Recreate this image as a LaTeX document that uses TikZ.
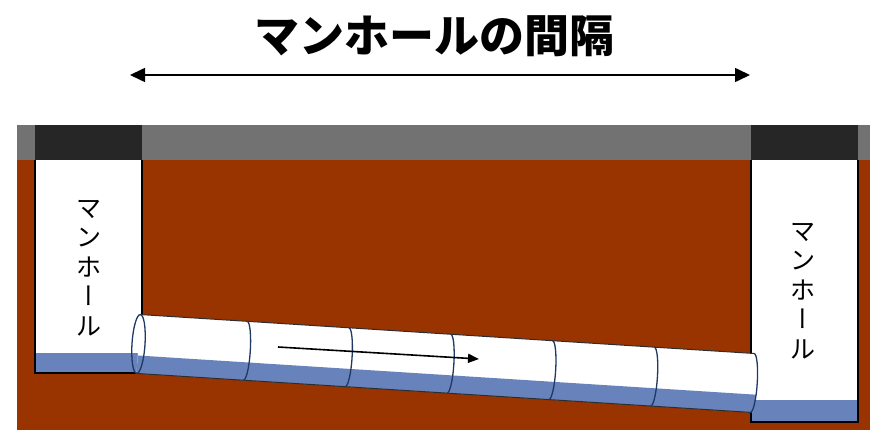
\documentclass[tikz,border=0pt]{standalone}
\usepackage{fontspec}
\newfontfamily\jp{Noto Sans CJK JP}
\usetikzlibrary{arrows.meta}

\definecolor{earth}{RGB}{153,51,0}
\definecolor{road}{RGB}{114,114,114}
\definecolor{cover}{RGB}{38,38,38}
\definecolor{water}{RGB}{104,131,187}
\definecolor{jointblue}{RGB}{31,56,100}
\definecolor{pipeedge}{RGB}{45,45,45}

\tikzset{
  shaftwall/.style={draw=black, line width=1.2pt},
  pipeedgeline/.style={draw=pipeedge, line width=1pt},
  jointline/.style={draw=jointblue, line width=1.3pt},
  shaftlabel/.style={align=center, inner sep=0pt,
    font=\jp\fontsize{25}{29.5}\selectfont},
  spanarrow/.style={line width=1.6pt,
    arrows={Triangle[length=15pt,width=14pt]-Triangle[length=15pt,width=14pt]}},
  flowarrow/.style={line width=1.6pt, -{Triangle[length=11pt,width=9pt]}}
}

% long vowel mark in its vertical-writing form
\newcommand{\longbar}{{\addfontfeature{RawFeature=+vert}ー}}

\begin{document}
\begin{tikzpicture}[x=1pt,y=-1pt]
\useasboundingbox (0,0) rectangle (870,430);

% title and span arrow
\node (title) at (434,36) {\jp\bfseries\fontsize{45}{50}\selectfont マンホールの間隔};
\coordinate (spanL) at (130,75);
\coordinate (spanR) at (750,75);
\draw[spanarrow] (spanL) -- (spanR);

% road surface and soil
\fill[road] (17,125) rectangle (870,160);
\fill[earth] (17,160) rectangle (870,430);

% left manhole shaft
\fill[white] (35,160) rectangle (142,373);
\fill[water] (35,353) rectangle (142,373);
\draw[shaftwall] (35,160) -- (35,373) -- (142,373);
\draw[shaftwall] (142,160) -- (142,373);

% right manhole shaft
\fill[white] (751,160) rectangle (858,422);
\fill[water] (751,400) rectangle (858,422);
\draw[shaftwall] (751,160) -- (751,422) -- (858,422) -- (858,160);

% manhole covers
\fill[cover] (35,125) rectangle (142,160);
\fill[cover] (751,125) rectangle (858,160);

% sewer pipe, drawn along its own axis
\begin{scope}[shift={(138.5,344)}, rotate=-3.63]
  \path[fill=white] (0,-29.5) -- (615,-29.5)
     arc[start angle=90, end angle=-90, x radius=5pt, y radius=29.5pt]
     -- (0,29.5) -- cycle;
  \begin{scope}
    \clip (0,-29.5) -- (615,-29.5)
       arc[start angle=90, end angle=-90, x radius=5pt, y radius=29.5pt]
       -- (0,29.5) -- cycle;
    \fill[water] (0,11.5) rectangle (625,31);
  \end{scope}
  \draw[pipeedgeline] (0,-29.5) -- (615,-29.5);
  \draw[pipeedgeline] (0,29.5) -- (615,29.5);
  % pipe joints
  \foreach \L in {107,209,311,413,515,615}
    \draw[jointline] (\L,-29.5)
      arc[start angle=90, end angle=-90, x radius=5pt, y radius=29.5pt];
  \draw[jointline] (0,0) ellipse[x radius=6.5pt, y radius=29.5pt];
\end{scope}

% flow direction
\coordinate (flowA) at (278,347);
\coordinate (flowB) at (479,359);
\draw[flowarrow] (flowA) -- (flowB);

% shaft labels
\node[shaftlabel] (labelL) at (88.5,268) {マ\\ン\\ホ\\\longbar\\ル};
\node[shaftlabel] (labelR) at (803,291) {マ\\ン\\ホ\\\longbar\\ル};
\end{tikzpicture}
\end{document}
